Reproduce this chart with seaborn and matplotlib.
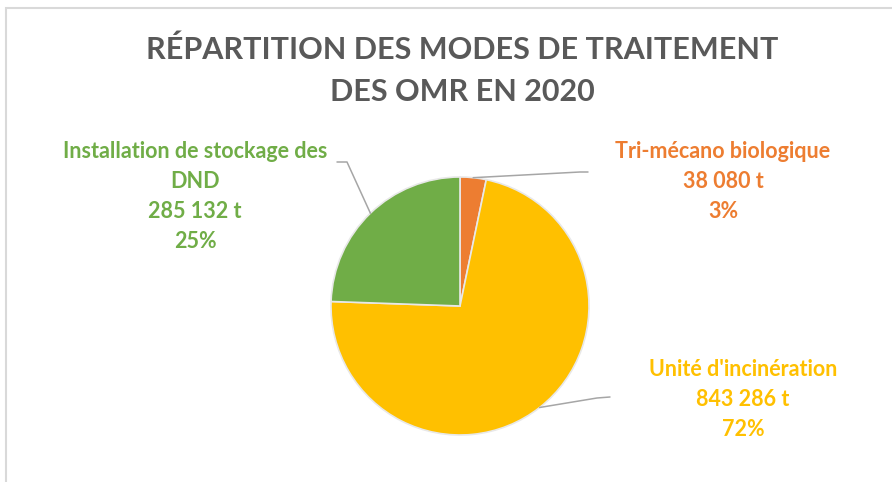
"""Pie chart: répartition des modes de traitement des OMR en 2020."""

import matplotlib

matplotlib.use("Agg")
import matplotlib.pyplot as plt
import numpy as np
import seaborn as sns
from matplotlib.patches import Rectangle

categories = ["Tri-mécano biologique", "Unité d'incinération", "Installation de stockage des\nDND"]
tonnages = [38080, 843286, 285132]
tonnage_labels = ["38 080 t", "843 286 t", "285 132 t"]
percent_labels = ["3%", "72%", "25%"]
colors = ["#ED7D31", "#FFC000", "#70AD47"]

W, H = 892, 482
CENTER = (460, H - 306)
RADIUS = 129

# label anchor (text centre x, first line y), elbow and stub end of leader, in pixels from top
LABEL_POS = [(723, 151), (743, 369), (195, 151)]
ELBOWS = [((580, 172), (588, 172)), ((597, 398), (610, 397)), ((347, 162), (337, 162))]

sns.set_theme(style="white")
plt.rcParams["font.family"] = ["Lato", "DejaVu Sans"]

fig = plt.figure(figsize=(W / 100, H / 100), dpi=100)
ax = fig.add_axes([0, 0, 1, 1])
ax.set_xlim(0, W)
ax.set_ylim(0, H)
ax.set_aspect("equal")
ax.axis("off")

wedges, _ = ax.pie(
    tonnages,
    colors=colors,
    startangle=90,
    counterclock=False,
    center=CENTER,
    radius=RADIUS,
    wedgeprops={"edgecolor": "#E8E8E8", "linewidth": 1.2},
    frame=False,
)
ax.set_xlim(0, W)
ax.set_ylim(0, H)

for i, w in enumerate(wedges):
    mid = np.deg2rad((w.theta1 + w.theta2) / 2)
    x0 = CENTER[0] + RADIUS * np.cos(mid)
    y0 = CENTER[1] + RADIUS * np.sin(mid)
    (ex, ey), (sx, sy) = ELBOWS[i]
    ax.plot([x0, ex, sx], [y0, H - ey, H - sy], color="#A6A6A6", lw=1.1, zorder=5)

    lx, ly = LABEL_POS[i]
    lines = categories[i].split("\n") + [tonnage_labels[i], percent_labels[i]]
    for k, line in enumerate(lines):
        ax.text(
            lx,
            H - (ly + k * 30),
            line,
            ha="center",
            va="center",
            fontsize=15.5,
            fontweight="bold",
            color=colors[i],
        )

ax.text(462, H - 50, "RÉPARTITION DES MODES DE TRAITEMENT", ha="center", va="center",
        fontsize=22, fontweight="bold", color="#595959")
ax.text(462, H - 92, "DES OMR EN 2020", ha="center", va="center",
        fontsize=22, fontweight="bold", color="#595959")

# chart frame, cropped on the right and bottom
fig.patches.append(Rectangle((6 / W, -0.1), 1.1, 1 - 8 / H + 0.1, transform=fig.transFigure,
                             fill=False, edgecolor="#D9D9D9", linewidth=1.5))

fig.savefig("out.png", dpi=100, facecolor="white")
